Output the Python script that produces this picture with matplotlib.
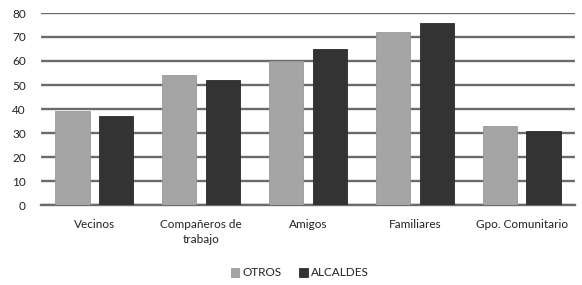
import matplotlib
matplotlib.use("Agg")
import matplotlib.pyplot as plt
import numpy as np

categories = ["Vecinos", "Compa\u00f1eros de\ntrabajo", "Amigos", "Familiares", "Gpo. Comunitario"]
otros = [39, 54, 60, 72, 33]
alcaldes = [37, 52, 65, 76, 31]
yticks = [0, 10, 20, 30, 40, 50, 60, 70, 80]

plt.rcParams['font.family'] = ['Lato', 'DejaVu Sans']
W, H = 582, 285
fig = plt.figure(figsize=(W/100, H/100), dpi=100)
ax = fig.add_axes([41/W, 1-205/H, (575-41)/W, (205-13)/H])

x = np.arange(len(categories))
bw = 0.32
off = 0.205
ax.bar(x - off, otros, bw, color="#a5a5a5", edgecolor="#9a9a9a", linewidth=0.6, label="OTROS", zorder=3)
ax.bar(x + off, alcaldes, bw, color="#333333", edgecolor="#2a2a2a", linewidth=0.6, label="ALCALDES", zorder=3)

ax.set_xlim(-0.5, len(categories)-0.5)
ax.set_ylim(0, 80)
ax.set_yticks(yticks)
ax.yaxis.grid(True, color="#6b6b6b", linewidth=1.7, zorder=0)
ax.set_axisbelow(True)
for s in ["top", "right", "left"]:
    ax.spines[s].set_visible(False)
ax.spines["bottom"].set_color("#6b6b6b")
ax.spines["bottom"].set_linewidth(1.7)
ax.tick_params(axis="both", length=0, labelsize=8.5, colors="#222222")
ax.tick_params(axis="y", pad=11)
ax.set_xticks(x)
ax.set_xticklabels([])
for xi, lab in zip(x, categories):
    for li, line in enumerate(lab.split("\n")):
        ax.annotate(line, xy=(xi, 0), xycoords=("data", "axes fraction"),
                    xytext=(0, -10 - li * 11), textcoords="offset points",
                    ha="center", va="top", fontsize=8.5, color="#222222")

leg = fig.legend(loc="center", bbox_to_anchor=(300/W, 1-273/H), ncol=2, frameon=False,
                 fontsize=8.5, handlelength=0.7, handleheight=0.7, handletextpad=0.3,
                 columnspacing=1.5)
for t in leg.get_texts():
    t.set_color("#222222")

fig.savefig("out.png", dpi=100)
